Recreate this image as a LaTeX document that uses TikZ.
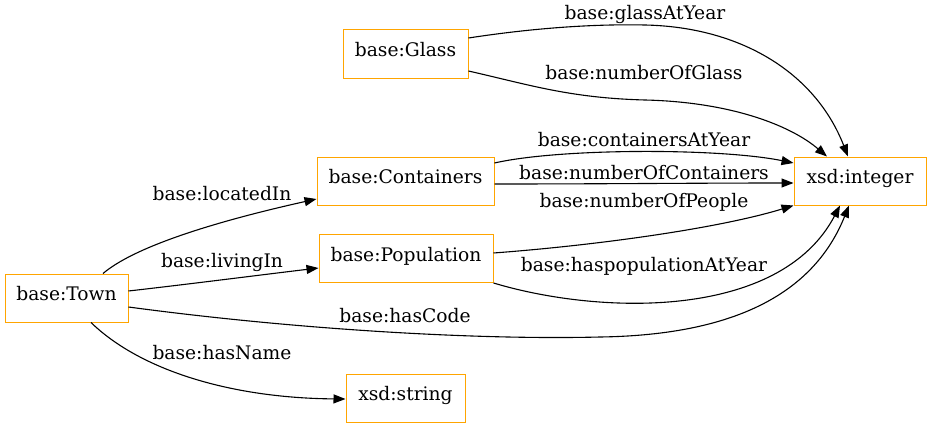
\documentclass[tikz,border=0pt]{standalone}
\usepackage{fontspec}
\setmainfont{DejaVu Serif}
\usetikzlibrary{arrows.meta}
\definecolor{nodeorange}{HTML}{FFA500}
\newcommand\myfont{\fontsize{18.67}{22}\selectfont}
\begin{document}
\begin{tikzpicture}[x=1pt,y=-1pt,
  cls/.style={draw=nodeorange, line width=1pt, rectangle, inner sep=0pt,
    text height=0.8em, text depth=0.22em, font=\myfont},
  lbl/.style={anchor=base, inner sep=0pt, font=\myfont},
  edge/.style={draw=black, line width=1.1pt, -{Triangle[length=12pt,width=9pt]}}]
\useasboundingbox[fill=white] (0,0) rectangle (931,428);

\node[cls, minimum width=125pt, minimum height=48pt] (glass) at (405.5,54) {base:Glass};
\node[cls, minimum width=177pt, minimum height=48pt] (containers) at (405.5,181) {base:Containers};
\node[cls, minimum width=174pt, minimum height=48pt] (population) at (406,258.5) {base:Population};
\node[cls, minimum width=123pt, minimum height=48pt] (town) at (66.5,298) {base:Town};
\node[cls, minimum width=119pt, minimum height=48pt] (string) at (405.5,398) {xsd:string};
\node[cls, minimum width=132pt, minimum height=48pt] (integer) at (860,181) {xsd:integer};

\draw[edge] ([yshift=16pt]glass.east) .. controls (540,27) and (600,24) .. (645,25)
  .. controls (740,27) and (815,72) .. ([xshift=-12pt]integer.north);
\draw[edge] ([yshift=-17pt]glass.east) .. controls (530,85) and (570,98) .. (645,100)
  .. controls (730,102) and (790,125) .. ([xshift=-33pt]integer.north);
\draw[edge] ([yshift=18pt]containers.east) .. controls (560,148) and (720,148) .. ([yshift=18pt]integer.west);
\draw[edge] ([yshift=-3pt]containers.east) .. controls (600,184) and (700,183) .. ([yshift=-2pt]integer.west);
\draw[edge] ([yshift=5.5pt]population.east) .. controls (600,245) and (720,228) .. (integer.south west);
\draw[edge] (population.south east) .. controls (600,315) and (780,320) .. ([xshift=-20pt]integer.south);
\draw[edge] ([yshift=-9pt]town.east) .. controls (300,330) and (480,340) .. (600,337)
  .. controls (740,335) and (815,290) .. ([xshift=-11pt]integer.south);
\draw[edge] ([xshift=36.5pt]town.north) .. controls (140,242) and (240,216) .. ([yshift=-18pt]containers.west);
\draw[edge] ([yshift=7pt]town.east) .. controls (190,284) and (260,275) .. ([yshift=-9.5pt]population.west);
\draw[edge] ([xshift=24.5pt]town.south) .. controls (140,370) and (230,398) .. ([yshift=-1pt]string.west);

\node[lbl] (l1) at (645,20) {base:glassAtYear};
\node[lbl] (l2) at (644,79) {base:numberOfGlass};
\node[lbl] (l3) at (644,146.7) {base:containersAtYear};
\node[lbl] (l4) at (644,179.3) {base:numberOfContainers};
\node[lbl] (l5) at (644,207) {base:numberOfPeople};
\node[lbl] (l6) at (644,271.7) {base:haspopulationAtYear};
\node[lbl] (l7) at (405,322.3) {base:hasCode};
\node[lbl] (l8) at (222,200) {base:locatedIn};
\node[lbl] (l9) at (222,267.3) {base:livingIn};
\node[lbl] (l10) at (222,359.3) {base:hasName};
\end{tikzpicture}
\end{document}
